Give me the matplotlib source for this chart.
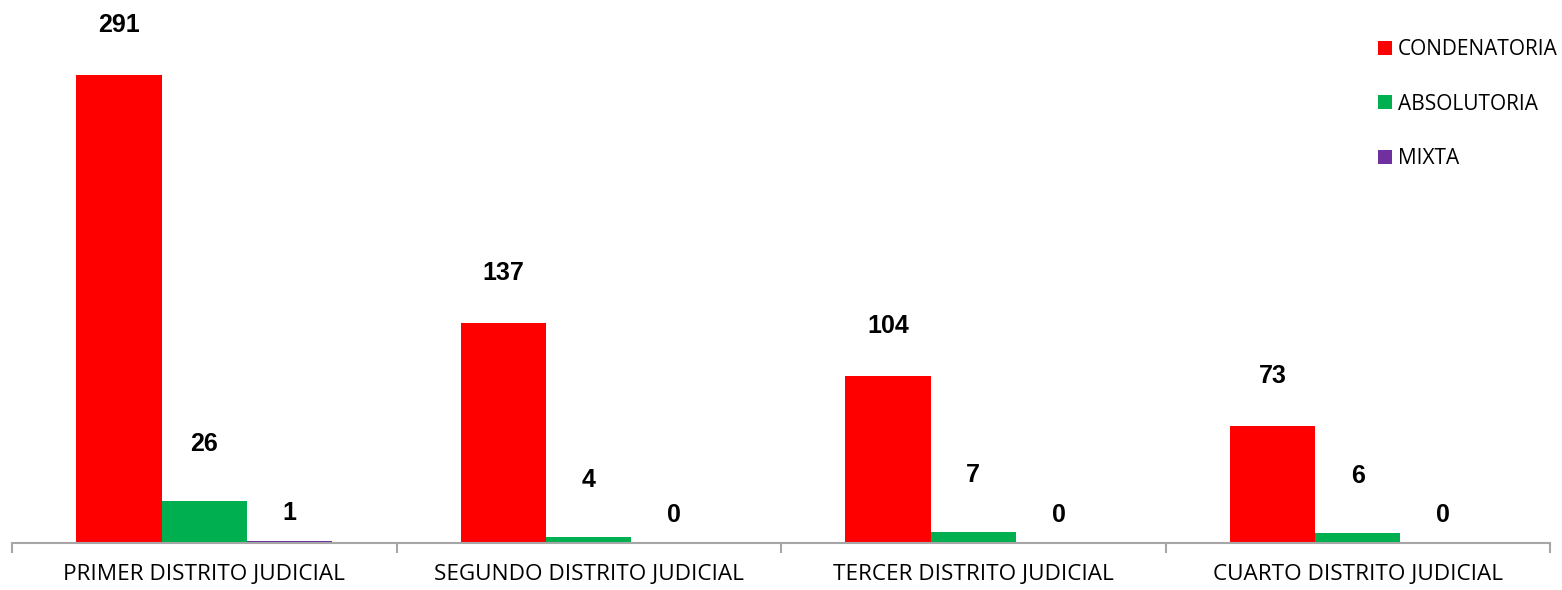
import matplotlib
matplotlib.use("Agg")
import matplotlib.pyplot as plt
import numpy as np

categories = ["PRIMER DISTRITO JUDICIAL", "SEGUNDO DISTRITO JUDICIAL",
              "TERCER DISTRITO JUDICIAL", "CUARTO DISTRITO JUDICIAL"]
series_names = ["CONDENATORIA", "ABSOLUTORIA", "MIXTA"]
condenatoria = [291, 137, 104, 73]
absolutoria = [26, 4, 7, 6]
mixta = [1, 0, 0, 0]

colors = ["#ff0000", "#00b050", "#7030a0"]
label_offsets_px = [50, 57, 28]

plt.rcParams['font.family'] = ['Open Sans', 'DejaVu Sans']

W, H = 1562, 590
fig = plt.figure(figsize=(W / 100, H / 100), dpi=100)
ax = fig.add_axes([12 / W, (H - 543) / H, (1550 - 12) / W, (543 - 10) / H])

x = np.arange(len(categories))
bw = 0.222
data = [condenatoria, absolutoria, mixta]
handles = []
for i, (vals, c, name) in enumerate(zip(data, colors, series_names)):
    pos = x + (i - 1) * bw
    b = ax.bar(pos, vals, width=bw, color=c, label=name, zorder=2)
    handles.append(b)
    for px, v in zip(pos, vals):
        ax.annotate(str(v), (px, v), xytext=(0, label_offsets_px[i]),
                    textcoords='offset pixels', ha='center', va='center',
                    fontsize=18, fontweight='bold', color='black',
                    family=['Liberation Sans', 'DejaVu Sans'])

ax.set_xlim(-0.5, len(categories) - 0.5)
ax.set_ylim(0, (543 - 10) / (468 / 291))
for s in ['top', 'right', 'left']:
    ax.spines[s].set_visible(False)
ax.spines['bottom'].set_color('#a6a6a6')
ax.spines['bottom'].set_linewidth(1.5)
ax.set_yticks([])
ax.set_xticks(np.arange(len(categories) + 1) - 0.5, minor=False)
ax.set_xticklabels([])
ax.tick_params(axis='x', which='major', length=7, width=1.5, color='#a6a6a6', direction='out')
ax.set_xticks(x, minor=True)
ax.set_xticklabels(categories, minor=True, fontsize=16.2)
ax.tick_params(axis='x', which='minor', length=0, pad=15)

leg = ax.legend(handles=handles, loc='upper left', bbox_to_anchor=(1370 / W, 1 - 31 / H),
                bbox_transform=fig.transFigure, frameon=False, fontsize=15,
                handlelength=0.65, handleheight=0.65, handletextpad=0.3,
                labelspacing=1.6, borderaxespad=0)

fig.savefig("out.png", dpi=100)
